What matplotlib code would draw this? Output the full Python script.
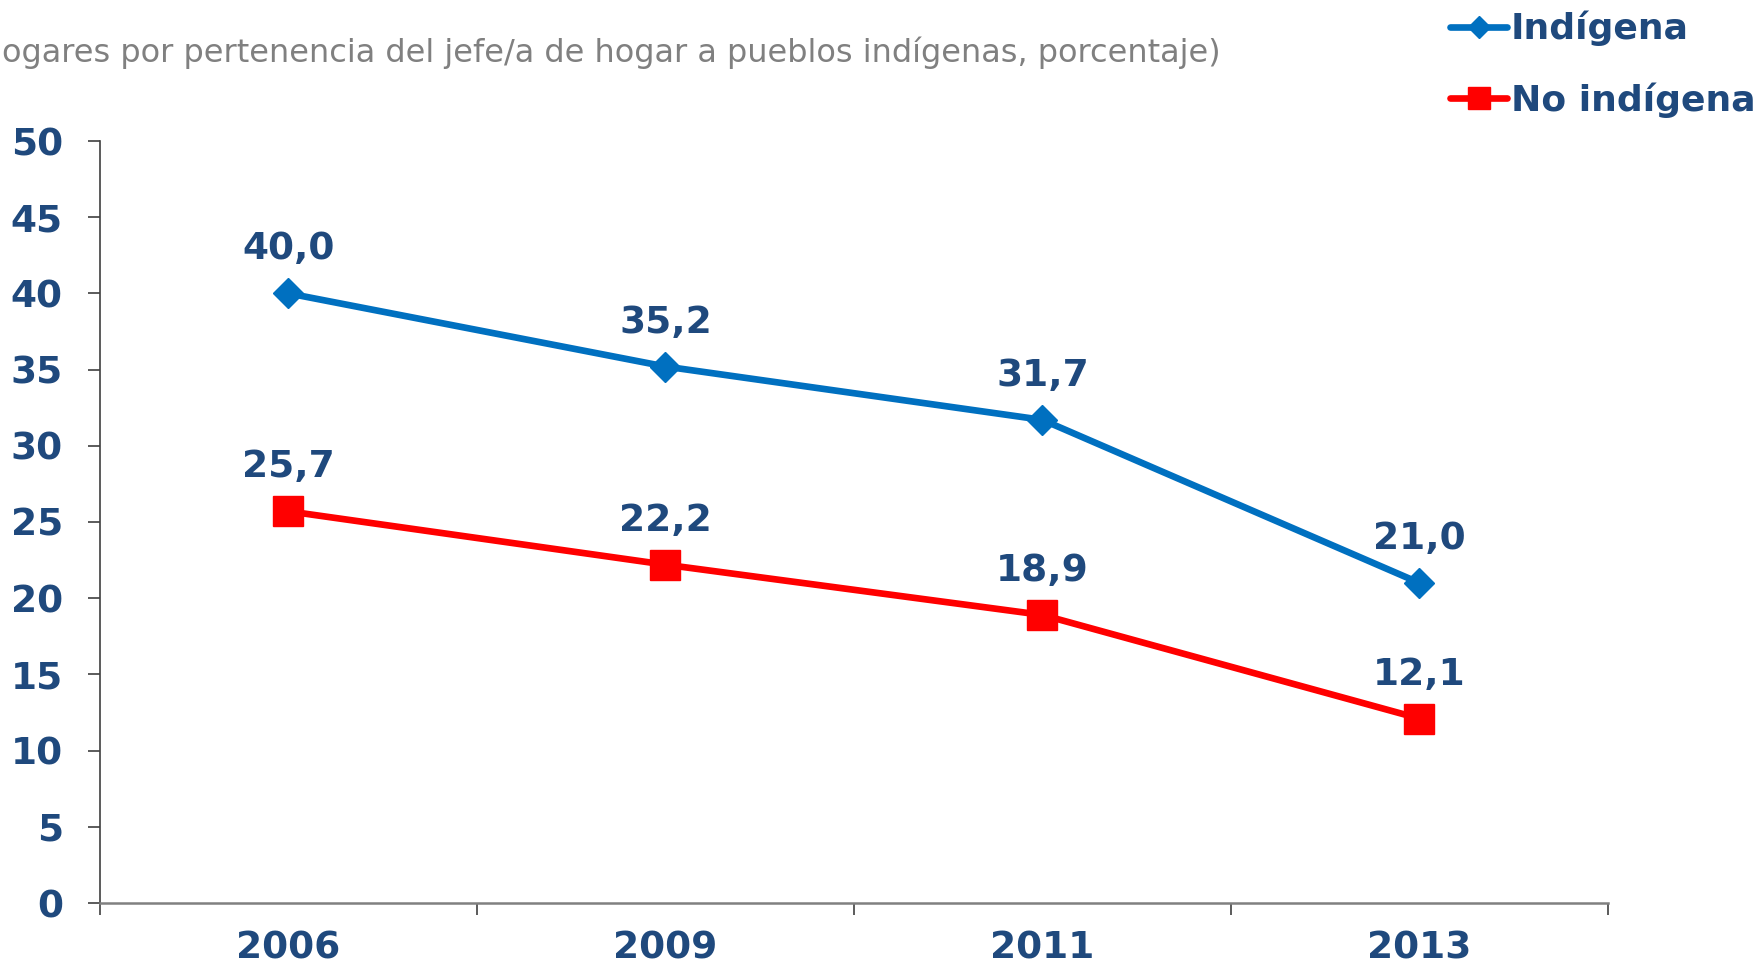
import numpy as np
import matplotlib
matplotlib.use("Agg")
import matplotlib.pyplot as plt

# -----------------------------
# Data
# -----------------------------

years = ["2006", "2009", "2011", "2013"]
indigena = [40.0, 35.2, 31.7, 21.0]
no_indigena = [25.7, 22.2, 18.9, 12.1]

title_text = "ogares por pertenencia del jefe/a de hogar a pueblos indígenas, porcentaje)"

text_color = "#1F497D"
blue = "#0070C0"
red = "#FF0000"

plt.rcParams["font.family"] = ["DejaVu Sans"]

# -----------------------------
# Figure
# -----------------------------

fig = plt.figure(figsize=(17.65, 9.67), dpi=100)
ax = fig.add_axes([100 / 1765, 1 - 903 / 967, (1608 - 100) / 1765, (903 - 141) / 967])

x = np.arange(len(years))

ax.plot(x, indigena, color=blue, lw=4.8, marker="D", markersize=15.5,
        label="Indígena", solid_capstyle="round")
ax.plot(x, no_indigena, color=red, lw=4.8, marker="s", markersize=21.5,
        label="No indígena", solid_capstyle="round")

# value labels
for series in (indigena, no_indigena):
    for xi, v in zip(x, series):
        ax.annotate(f"{v:.1f}".replace(".", ","), (xi, v),
                    xytext=(0, 24.5), textcoords="offset points",
                    ha="center", va="baseline", fontsize=27,
                    fontweight="bold", color=text_color)

# axes
ax.set_ylim(0, 50)
ax.set_yticks(np.arange(0, 51, 5))
ax.set_xlim(-0.5, len(years) - 0.5)
ax.set_xticks(x)
ax.set_xticklabels(years)
ax.set_xticks(np.arange(-0.5, len(years), 1), minor=True)

ax.tick_params(axis="y", length=8.8, width=1.2, color="#404040", pad=18,
               labelsize=27, labelcolor=text_color)
ax.tick_params(axis="x", which="major", length=0, pad=20,
               labelsize=27, labelcolor=text_color)
ax.tick_params(axis="x", which="minor", length=8.8, width=1.2, color="#404040")
for lab in ax.get_xticklabels() + ax.get_yticklabels():
    lab.set_fontweight("bold")

ax.spines["top"].set_visible(False)
ax.spines["right"].set_visible(False)
ax.spines["left"].set_color("#404040")
ax.spines["left"].set_linewidth(1.2)
ax.spines["bottom"].set_color("#808080")
ax.spines["bottom"].set_linewidth(1.8)

# title (cut at the left edge, as in the source)
fig.text(0.001, 1 - 53 / 967, title_text, ha="left", va="center",
         fontsize=23, color="#808080")

# legend
fig.legend(loc="upper left", bbox_to_anchor=(1450 / 1765, 1 - 11 / 967),
           frameon=False, handlelength=1.58, handletextpad=0.1,
           labelspacing=1.0, markerscale=0.72, borderpad=0, borderaxespad=0,
           prop={"weight": "bold", "size": 26}, labelcolor=text_color)

fig.savefig("out.png", dpi=100)
